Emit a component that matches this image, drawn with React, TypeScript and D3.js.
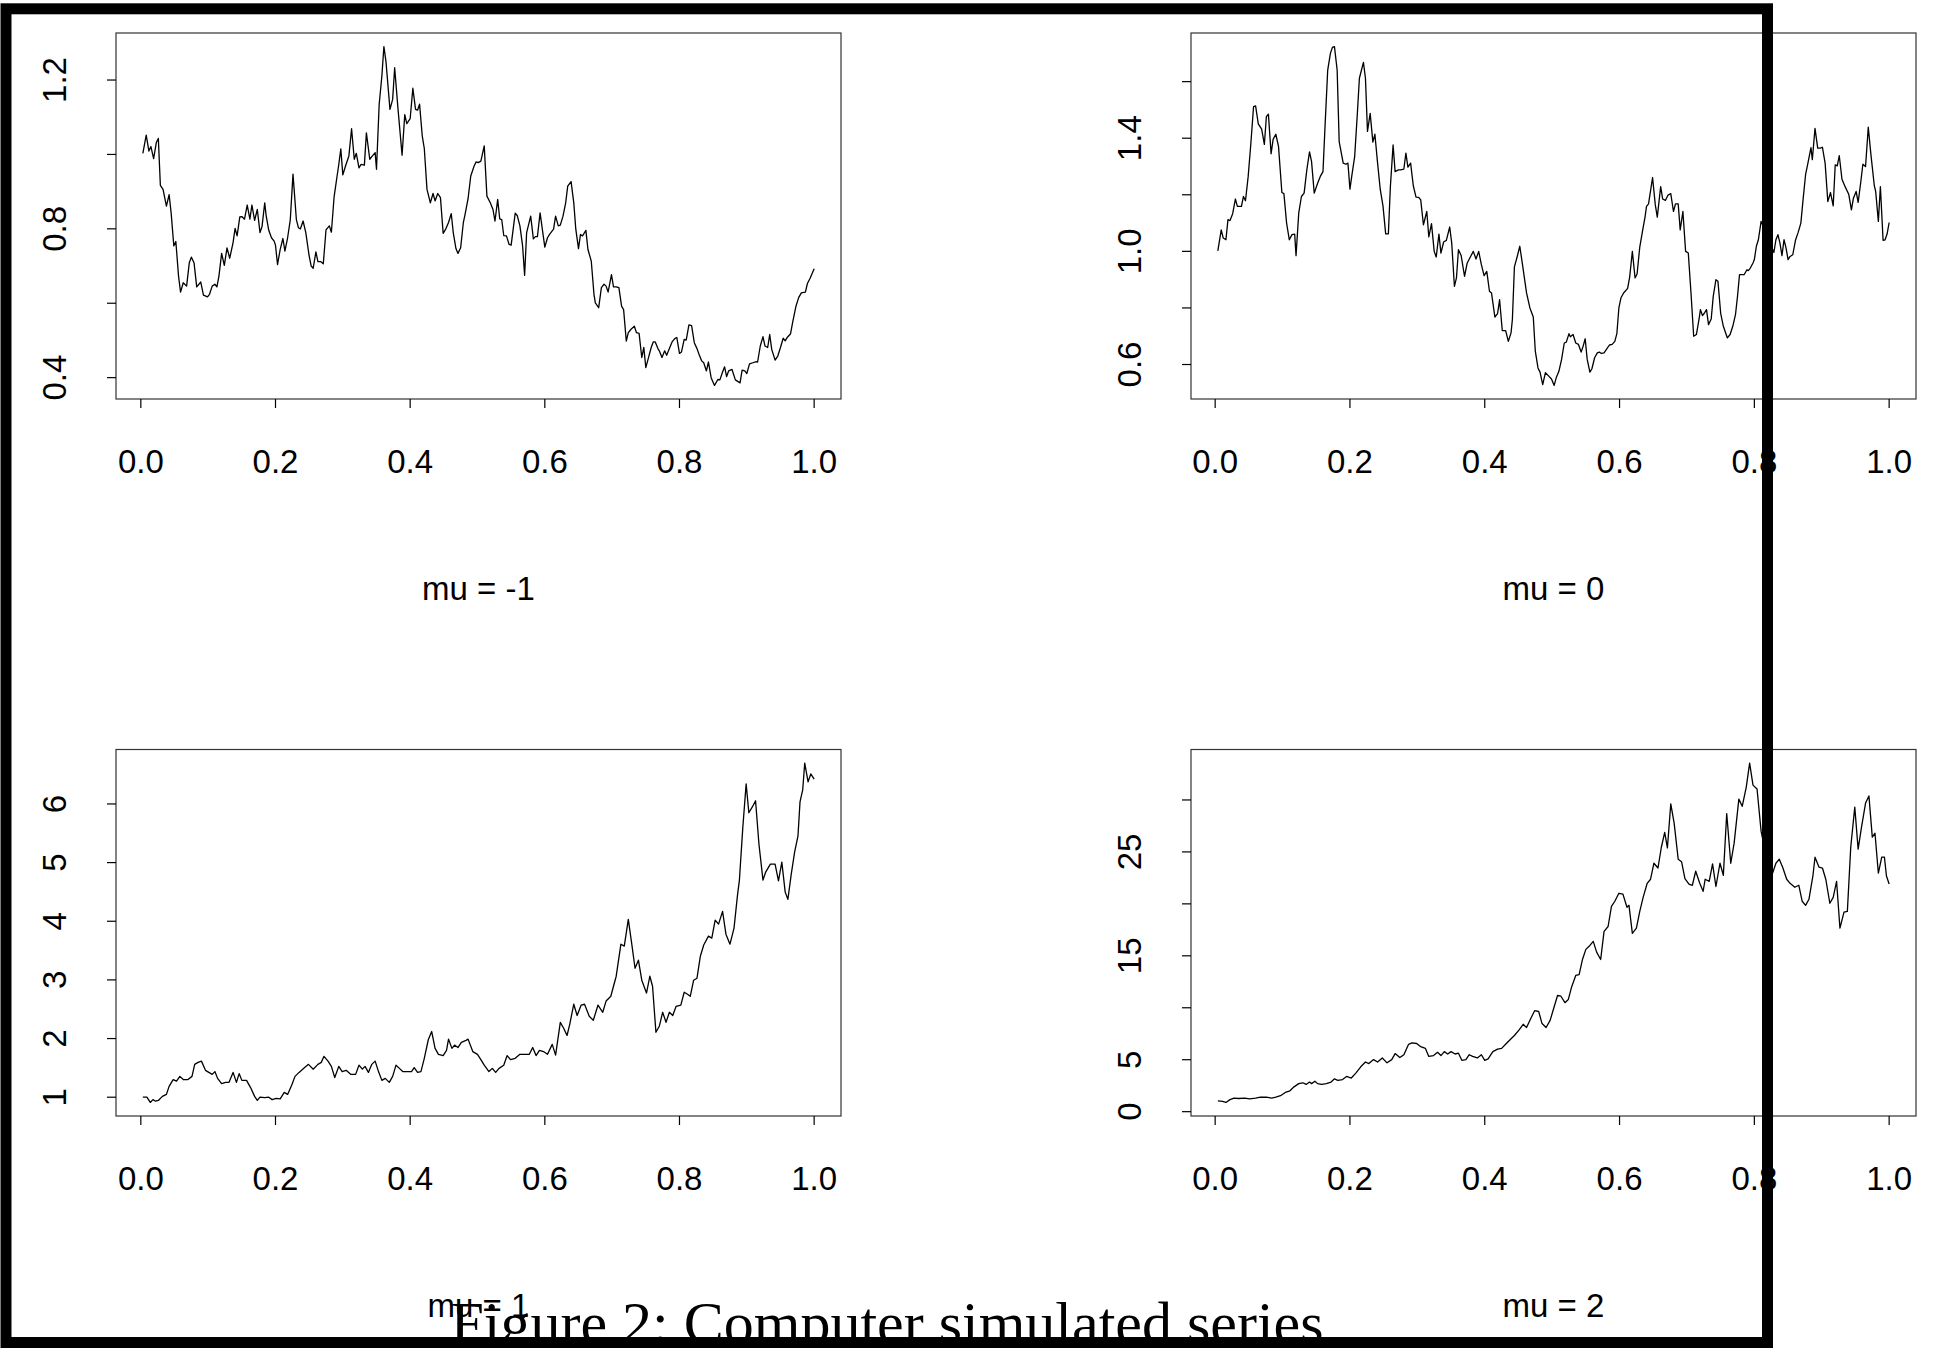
import React from 'react';
import * as d3 from 'd3';

const W = 1936;
const H = 1348;

// simulated series, [t, value]
const seriesMuM1: [number, number][] = [
  [0.003,1.003],[0.008,1.052],[0.012,1.009],[0.015,1.021],[0.019,0.989],[0.023,1.032],[0.026,1.043],[0.029,0.917],[0.033,0.906],[0.038,0.861],
  [0.042,0.892],[0.045,0.843],[0.049,0.754],[0.052,0.766],[0.056,0.673],[0.059,0.630],[0.063,0.655],[0.068,0.646],[0.072,0.709],[0.075,0.724],
  [0.079,0.709],[0.083,0.644],[0.089,0.657],[0.093,0.622],[0.099,0.617],[0.102,0.624],[0.106,0.646],[0.110,0.651],[0.113,0.644],[0.116,0.673],
  [0.120,0.734],[0.124,0.702],[0.128,0.749],[0.132,0.721],[0.137,0.763],[0.140,0.801],[0.143,0.781],[0.147,0.832],[0.150,0.833],[0.154,0.826],
  [0.158,0.864],[0.162,0.826],[0.165,0.864],[0.169,0.823],[0.173,0.852],[0.177,0.790],[0.180,0.806],[0.184,0.870],[0.186,0.837],[0.190,0.796],
  [0.194,0.776],[0.198,0.767],[0.200,0.756],[0.203,0.704],[0.207,0.745],[0.211,0.774],[0.214,0.740],[0.218,0.776],[0.222,0.825],[0.226,0.947],
  [0.231,0.825],[0.234,0.803],[0.237,0.800],[0.241,0.821],[0.245,0.790],[0.250,0.727],[0.253,0.700],[0.256,0.694],[0.260,0.738],[0.263,0.712],
  [0.267,0.712],[0.271,0.706],[0.275,0.797],[0.280,0.808],[0.283,0.791],[0.287,0.885],[0.291,0.936],[0.294,0.973],[0.297,1.015],[0.300,0.945],
  [0.304,0.969],[0.309,0.996],[0.313,1.069],[0.317,0.987],[0.320,1.003],[0.324,0.964],[0.327,0.973],[0.332,0.971],[0.335,1.058],[0.340,0.987],
  [0.343,0.994],[0.348,1.005],[0.350,0.960],[0.354,1.135],[0.358,1.211],[0.361,1.290],[0.364,1.251],[0.370,1.121],[0.374,1.148],[0.377,1.233],
  [0.382,1.121],[0.388,0.998],[0.392,1.107],[0.395,1.083],[0.400,1.096],[0.404,1.178],[0.408,1.121],[0.411,1.119],[0.414,1.135],[0.418,1.049],
  [0.421,1.016],[0.425,0.906],[0.430,0.870],[0.434,0.895],[0.437,0.875],[0.441,0.895],[0.445,0.884],[0.449,0.788],[0.453,0.800],[0.457,0.817],
  [0.461,0.841],[0.464,0.790],[0.468,0.747],[0.471,0.734],[0.475,0.749],[0.479,0.817],[0.482,0.843],[0.486,0.881],[0.490,0.942],[0.495,0.969],
  [0.498,0.980],[0.501,0.978],[0.505,0.982],[0.510,1.023],[0.514,0.888],[0.519,0.870],[0.523,0.852],[0.526,0.821],[0.530,0.879],[0.533,0.827],
  [0.536,0.825],[0.539,0.782],[0.543,0.781],[0.547,0.758],[0.550,0.756],[0.553,0.799],[0.556,0.842],[0.559,0.836],[0.563,0.808],[0.567,0.754],
  [0.570,0.675],[0.573,0.790],[0.576,0.812],[0.579,0.834],[0.583,0.773],[0.586,0.779],[0.589,0.779],[0.593,0.843],[0.597,0.790],[0.600,0.751],
  [0.604,0.776],[0.607,0.785],[0.613,0.799],[0.616,0.834],[0.620,0.808],[0.623,0.810],[0.627,0.834],[0.631,0.870],[0.634,0.915],[0.639,0.927],
  [0.643,0.870],[0.646,0.799],[0.650,0.747],[0.653,0.785],[0.656,0.781],[0.661,0.796],[0.664,0.745],[0.669,0.713],[0.673,0.624],[0.675,0.601],
  [0.680,0.588],[0.684,0.642],[0.688,0.651],[0.691,0.646],[0.694,0.630],[0.699,0.677],[0.702,0.644],[0.706,0.644],[0.710,0.642],[0.714,0.592],
  [0.717,0.583],[0.721,0.498],[0.724,0.521],[0.728,0.530],[0.733,0.538],[0.736,0.521],[0.740,0.519],[0.744,0.454],[0.747,0.481],[0.750,0.427],
  [0.754,0.454],[0.758,0.481],[0.761,0.496],[0.764,0.496],[0.768,0.478],[0.770,0.472],[0.774,0.454],[0.778,0.472],[0.781,0.460],[0.785,0.478],
  [0.789,0.496],[0.793,0.505],[0.796,0.508],[0.800,0.465],[0.803,0.469],[0.807,0.503],[0.810,0.501],[0.814,0.542],[0.818,0.540],[0.822,0.494],
  [0.826,0.478],[0.829,0.463],[0.833,0.445],[0.836,0.440],[0.840,0.418],[0.843,0.442],[0.847,0.400],[0.852,0.379],[0.857,0.395],[0.860,0.394],
  [0.864,0.415],[0.867,0.429],[0.870,0.403],[0.873,0.418],[0.878,0.422],[0.883,0.394],[0.890,0.386],[0.893,0.420],[0.897,0.418],[0.900,0.411],
  [0.904,0.437],[0.909,0.440],[0.914,0.443],[0.916,0.442],[0.920,0.485],[0.924,0.510],[0.927,0.485],[0.931,0.481],[0.934,0.516],[0.937,0.476],
  [0.942,0.447],[0.946,0.458],[0.950,0.481],[0.954,0.506],[0.957,0.499],[0.960,0.508],[0.965,0.518],[0.968,0.548],[0.973,0.592],[0.977,0.615],
  [0.981,0.628],[0.987,0.630],[0.990,0.653],[0.994,0.667],[1.000,0.693],
];

const seriesMu0: [number, number][] = [
  [0.004,1.002],[0.009,1.076],[0.012,1.047],[0.016,1.041],[0.019,1.112],[0.022,1.109],[0.026,1.133],[0.030,1.185],[0.033,1.159],[0.039,1.159],
  [0.042,1.194],[0.045,1.179],[0.049,1.265],[0.053,1.382],[0.057,1.512],[0.060,1.514],[0.064,1.451],[0.069,1.432],[0.073,1.378],[0.076,1.476],
  [0.079,1.485],[0.083,1.345],[0.086,1.396],[0.090,1.414],[0.094,1.371],[0.099,1.208],[0.102,1.204],[0.106,1.100],[0.110,1.041],[0.114,1.059],
  [0.118,1.061],[0.120,0.985],[0.124,1.135],[0.128,1.194],[0.132,1.206],[0.136,1.288],[0.140,1.352],[0.143,1.318],[0.147,1.206],[0.152,1.241],
  [0.156,1.265],[0.160,1.282],[0.163,1.441],[0.167,1.641],[0.171,1.700],[0.174,1.721],[0.177,1.724],[0.181,1.641],[0.184,1.388],[0.190,1.312],
  [0.194,1.308],[0.197,1.312],[0.200,1.220],[0.203,1.271],[0.207,1.335],[0.211,1.488],[0.214,1.612],[0.220,1.668],[0.223,1.612],[0.226,1.424],
  [0.230,1.488],[0.234,1.386],[0.237,1.414],[0.241,1.312],[0.245,1.218],[0.249,1.161],[0.253,1.062],[0.257,1.062],[0.260,1.229],[0.264,1.376],
  [0.267,1.282],[0.272,1.288],[0.275,1.288],[0.280,1.291],[0.283,1.347],[0.286,1.298],[0.290,1.312],[0.294,1.232],[0.298,1.192],[0.302,1.191],
  [0.305,1.182],[0.309,1.094],[0.314,1.141],[0.317,1.051],[0.321,1.098],[0.325,1.000],[0.328,0.980],[0.332,1.061],[0.335,0.994],[0.339,1.033],
  [0.343,1.039],[0.348,1.086],[0.351,1.029],[0.355,0.876],[0.358,0.906],[0.361,1.006],[0.365,0.985],[0.370,0.912],[0.374,0.959],[0.379,0.982],
  [0.383,1.000],[0.387,0.973],[0.391,1.000],[0.395,0.953],[0.399,0.914],[0.403,0.929],[0.407,0.859],[0.410,0.853],[0.415,0.768],[0.419,0.780],
  [0.422,0.829],[0.426,0.720],[0.431,0.720],[0.435,0.682],[0.439,0.712],[0.441,0.759],[0.444,0.945],[0.448,0.980],[0.452,1.018],[0.456,0.953],
  [0.462,0.853],[0.467,0.800],[0.472,0.768],[0.475,0.647],[0.479,0.588],[0.482,0.573],[0.486,0.529],[0.490,0.571],[0.495,0.559],[0.499,0.549],
  [0.503,0.526],[0.506,0.553],[0.510,0.576],[0.514,0.618],[0.518,0.676],[0.521,0.679],[0.525,0.709],[0.527,0.698],[0.531,0.706],[0.535,0.676],
  [0.539,0.671],[0.543,0.644],[0.546,0.665],[0.549,0.691],[0.552,0.618],[0.556,0.573],[0.559,0.585],[0.563,0.624],[0.567,0.641],[0.570,0.644],
  [0.573,0.639],[0.577,0.641],[0.581,0.655],[0.585,0.669],[0.589,0.671],[0.593,0.682],[0.596,0.709],[0.599,0.800],[0.602,0.835],[0.606,0.853],
  [0.612,0.869],[0.615,0.909],[0.619,1.000],[0.623,0.906],[0.626,0.920],[0.630,1.015],[0.634,1.071],[0.638,1.124],[0.640,1.159],[0.643,1.168],
  [0.649,1.261],[0.653,1.165],[0.656,1.121],[0.661,1.229],[0.664,1.185],[0.668,1.180],[0.672,1.199],[0.676,1.204],[0.680,1.141],[0.683,1.168],
  [0.687,1.168],[0.690,1.076],[0.694,1.141],[0.698,1.000],[0.702,0.994],[0.706,0.853],[0.710,0.700],[0.714,0.706],[0.718,0.761],[0.720,0.794],
  [0.723,0.773],[0.726,0.782],[0.729,0.794],[0.732,0.741],[0.736,0.761],[0.739,0.841],[0.743,0.900],[0.746,0.894],[0.750,0.782],[0.754,0.735],
  [0.760,0.694],[0.764,0.706],[0.768,0.735],[0.772,0.776],[0.775,0.841],[0.778,0.918],[0.782,0.918],[0.785,0.918],[0.789,0.935],[0.791,0.932],
  [0.794,0.941],[0.798,0.959],[0.800,0.971],[0.803,1.018],[0.806,1.041],[0.810,1.106],[0.829,0.996],[0.832,1.041],[0.835,1.059],[0.838,1.029],
  [0.841,0.985],[0.844,1.041],[0.847,1.012],[0.850,0.971],[0.853,0.982],[0.857,0.988],[0.861,1.039],[0.865,1.067],[0.869,1.100],[0.872,1.176],
  [0.876,1.271],[0.880,1.318],[0.884,1.367],[0.886,1.324],[0.890,1.435],[0.894,1.365],[0.898,1.365],[0.901,1.368],[0.905,1.312],[0.909,1.176],
  [0.913,1.208],[0.917,1.161],[0.920,1.306],[0.923,1.302],[0.926,1.338],[0.930,1.255],[0.935,1.227],[0.940,1.202],[0.944,1.147],[0.947,1.188],
  [0.951,1.212],[0.954,1.173],[0.958,1.247],[0.961,1.308],[0.965,1.300],[0.969,1.439],[0.973,1.341],[0.978,1.232],[0.980,1.212],[0.984,1.106],
  [0.987,1.229],[0.991,1.039],[0.994,1.041],[0.997,1.062],[1.000,1.102],
];

const seriesMu1: [number, number][] = [
  [0.003,1.000],[0.009,1.000],[0.014,0.911],[0.018,0.959],[0.022,0.932],[0.026,0.945],[0.032,1.014],[0.038,1.048],[0.042,1.184],[0.048,1.301],
  [0.053,1.273],[0.058,1.355],[0.063,1.301],[0.070,1.301],[0.076,1.355],[0.080,1.560],[0.085,1.594],[0.090,1.615],[0.096,1.458],[0.101,1.423],
  [0.106,1.389],[0.110,1.437],[0.114,1.321],[0.120,1.232],[0.126,1.253],[0.131,1.253],[0.137,1.423],[0.142,1.253],[0.146,1.403],[0.150,1.287],
  [0.157,1.287],[0.163,1.164],[0.169,1.014],[0.173,0.945],[0.177,1.000],[0.184,0.993],[0.190,1.000],[0.195,0.959],[0.201,0.980],[0.207,0.973],
  [0.213,1.082],[0.218,1.048],[0.224,1.205],[0.229,1.355],[0.235,1.423],[0.242,1.492],[0.249,1.560],[0.256,1.478],[0.263,1.560],[0.268,1.594],
  [0.272,1.697],[0.278,1.615],[0.283,1.526],[0.288,1.335],[0.294,1.526],[0.299,1.437],[0.305,1.458],[0.312,1.389],[0.319,1.389],[0.324,1.546],
  [0.329,1.478],[0.333,1.526],[0.338,1.423],[0.343,1.560],[0.348,1.615],[0.353,1.437],[0.358,1.287],[0.363,1.321],[0.369,1.253],[0.374,1.355],
  [0.379,1.546],[0.384,1.492],[0.389,1.437],[0.396,1.437],[0.402,1.437],[0.406,1.505],[0.411,1.423],[0.416,1.437],[0.421,1.663],[0.427,1.984],
  [0.432,2.120],[0.437,1.833],[0.442,1.731],[0.449,1.710],[0.454,1.799],[0.457,1.990],[0.462,1.833],[0.466,1.888],[0.471,1.847],[0.476,1.936],
  [0.483,1.970],[0.486,1.990],[0.493,1.778],[0.500,1.731],[0.505,1.642],[0.510,1.546],[0.517,1.437],[0.522,1.492],[0.527,1.423],[0.532,1.492],
  [0.539,1.546],[0.544,1.710],[0.549,1.642],[0.556,1.663],[0.563,1.731],[0.570,1.731],[0.577,1.731],[0.582,1.847],[0.587,1.710],[0.592,1.799],
  [0.598,1.778],[0.604,1.731],[0.611,1.901],[0.616,1.717],[0.623,2.277],[0.628,2.175],[0.633,2.052],[0.637,2.243],[0.643,2.585],[0.648,2.393],
  [0.654,2.571],[0.659,2.585],[0.666,2.380],[0.672,2.311],[0.679,2.571],[0.686,2.448],[0.691,2.639],[0.698,2.721],[0.706,3.063],[0.713,3.609],
  [0.718,3.575],[0.724,4.033],[0.729,3.623],[0.734,3.199],[0.739,3.336],[0.744,2.995],[0.751,2.776],[0.756,3.063],[0.760,2.892],[0.765,2.107],
  [0.770,2.209],[0.775,2.448],[0.780,2.277],[0.785,2.448],[0.790,2.393],[0.795,2.550],[0.802,2.571],[0.807,2.790],[0.812,2.755],[0.816,2.721],
  [0.821,2.995],[0.826,3.029],[0.831,3.404],[0.836,3.596],[0.843,3.746],[0.848,3.712],[0.853,4.019],[0.858,3.951],[0.864,4.169],[0.869,3.780],
  [0.875,3.609],[0.881,3.883],[0.886,4.429],[0.889,4.702],[0.894,5.590],[0.899,6.342],[0.903,5.850],[0.908,5.945],[0.913,6.055],[0.918,5.317],
  [0.924,4.702],[0.928,4.839],[0.935,4.975],[0.942,4.975],[0.947,4.689],[0.952,5.009],[0.957,4.497],[0.961,4.374],[0.966,4.805],[0.971,5.180],
  [0.976,5.454],[0.979,6.035],[0.983,6.239],[0.986,6.697],[0.991,6.376],[0.995,6.512],[1.000,6.423],
];

const seriesMu2: [number, number][] = [
  [0.004,1.04],[0.011,1.00],[0.016,0.89],[0.022,1.16],[0.028,1.31],[0.035,1.27],[0.044,1.31],[0.051,1.23],[0.060,1.31],[0.067,1.39],
  [0.076,1.39],[0.084,1.31],[0.090,1.39],[0.097,1.54],[0.104,1.85],[0.111,2.01],[0.117,2.39],[0.124,2.70],[0.130,2.78],[0.135,2.62],
  [0.140,2.85],[0.143,2.70],[0.148,2.93],[0.152,2.70],[0.158,2.62],[0.165,2.70],[0.172,2.85],[0.177,3.16],[0.182,3.01],[0.189,3.09],
  [0.195,3.39],[0.202,3.24],[0.209,3.74],[0.216,4.32],[0.223,4.78],[0.228,4.63],[0.235,5.01],[0.241,4.78],[0.248,5.17],[0.255,4.70],
  [0.262,5.01],[0.267,5.59],[0.274,5.21],[0.280,5.48],[0.287,6.48],[0.292,6.63],[0.299,6.56],[0.305,6.25],[0.312,6.09],[0.317,5.32],
  [0.324,5.40],[0.330,5.71],[0.335,5.40],[0.340,5.78],[0.345,5.55],[0.350,5.78],[0.356,5.55],[0.361,5.63],[0.366,4.94],[0.372,5.01],
  [0.377,5.48],[0.382,5.32],[0.389,5.17],[0.395,5.48],[0.400,4.94],[0.405,5.09],[0.412,5.78],[0.419,6.02],[0.425,6.09],[0.432,6.56],
  [0.439,7.02],[0.444,7.33],[0.451,7.87],[0.457,8.41],[0.462,8.10],[0.469,9.06],[0.474,9.72],[0.480,9.64],[0.485,8.48],[0.491,8.10],
  [0.497,8.79],[0.503,10.10],[0.508,11.18],[0.513,11.11],[0.519,10.49],[0.524,10.80],[0.529,12.03],[0.535,13.11],[0.540,13.19],[0.545,14.65],
  [0.550,15.62],[0.556,16.00],[0.561,16.39],[0.566,15.35],[0.572,14.65],[0.577,17.35],[0.583,17.82],[0.588,19.75],[0.593,20.25],[0.599,21.02],
  [0.605,20.94],[0.611,19.67],[0.614,19.86],[0.619,17.16],[0.625,17.66],[0.630,19.28],[0.635,20.63],[0.641,21.98],[0.646,22.37],[0.651,23.91],
  [0.657,23.45],[0.662,25.45],[0.667,26.88],[0.671,25.38],[0.676,29.62],[0.681,27.77],[0.687,24.30],[0.692,24.06],[0.697,22.44],[0.703,21.91],
  [0.708,21.79],[0.713,23.14],[0.719,21.98],[0.724,21.21],[0.727,22.37],[0.733,22.17],[0.738,23.84],[0.743,21.67],[0.749,23.91],[0.754,22.75],
  [0.759,28.69],[0.765,23.91],[0.770,25.84],[0.777,30.08],[0.782,29.39],[0.788,31.24],[0.793,33.55],[0.798,31.43],[0.804,31.05],[0.810,27.00],
  [0.816,25.07],[0.827,22.95],[0.832,23.91],[0.837,24.30],[0.842,23.53],[0.848,22.37],[0.853,21.98],[0.860,21.60],[0.866,21.79],[0.871,20.25],
  [0.876,19.86],[0.881,20.44],[0.887,22.75],[0.890,24.49],[0.896,23.53],[0.901,23.45],[0.906,22.37],[0.912,20.06],[0.917,20.63],[0.922,22.17],
  [0.927,17.66],[0.933,19.21],[0.938,19.28],[0.943,25.45],[0.949,29.31],[0.954,25.26],[0.959,27.38],[0.965,29.70],[0.970,30.39],[0.975,26.42],
  [0.979,26.80],[0.984,22.95],[0.989,24.49],[0.993,24.49],[0.996,22.68],[1.000,21.91],
];

const xTicks = [0, 0.2, 0.4, 0.6, 0.8, 1.0];

const ticksMuM1 = [0.4, 0.6, 0.8, 1.0, 1.2];
const labelsMuM1 = ['0.4', '0.8', '1.2'];
const ticksMu0 = [0.6, 0.8, 1.0, 1.2, 1.4, 1.6];
const labelsMu0 = ['0.6', '1.0', '1.4'];
const ticksMu1 = [1, 2, 3, 4, 5, 6];
const labelsMu1 = ['1', '2', '3', '4', '5', '6'];
const ticksMu2 = [0, 5, 10, 15, 20, 25, 30];
const labelsMu2 = ['0', '5', '15', '25'];

const titles = ['mu = -1', 'mu = 0', 'mu = 1', 'mu = 2'];
const caption = 'Figure 2: Computer simulated series';

const SANS = '"Liberation Sans", Arial, Helvetica, sans-serif';

// R style range: data extent padded by 4% each side
function padded(ext: [number, number]): [number, number] {
  const p = (ext[1] - ext[0]) * 0.04;
  return [ext[0] - p, ext[1] + p];
}

type Box = { x0: number; x1: number; y0: number; y1: number };

function Panel(props: { data: [number, number][]; title: string; yTicks: number[]; yLabels: string[]; box: Box }) {
  const { data, title, yTicks, yLabels, box } = props;
  const x = d3.scaleLinear()
    .domain(padded(d3.extent(data, d => d[0]) as [number, number]))
    .range([box.x0, box.x1]);
  const y = d3.scaleLinear()
    .domain(padded(d3.extent(data, d => d[1]) as [number, number]))
    .range([box.y1, box.y0]);
  const line = d3.line<[number, number]>().x(d => x(d[0])).y(d => y(d[1]));
  const fmt = d3.format('.1f');

  return (
    <g>
      <rect x={box.x0} y={box.y0} width={box.x1 - box.x0} height={box.y1 - box.y0}
        fill="none" stroke="#333" strokeWidth={1.2} />
      <path d={line(data) || ''} fill="none" stroke="#000" strokeWidth={1.3} strokeLinejoin="round" />
      {xTicks.map(t => (
        <g key={'x' + t}>
          <line x1={x(t)} x2={x(t)} y1={box.y1} y2={box.y1 + 9} stroke="#000" strokeWidth={1.2} />
          <text x={x(t)} y={box.y1 + 74} textAnchor="middle" fontSize={33} fontFamily={SANS}>{fmt(t)}</text>
        </g>
      ))}
      {yTicks.map(v => (
        <line key={'y' + v} x1={box.x0 - 9} x2={box.x0} y1={y(v)} y2={y(v)} stroke="#000" strokeWidth={1.2} />
      ))}
      {yLabels.map(l => (
        <text key={'l' + l} transform={`translate(${box.x0 - 50},${y(+l)}) rotate(-90)`}
          textAnchor="middle" fontSize={33} fontFamily={SANS}>{l}</text>
      ))}
      <text x={(box.x0 + box.x1) / 2} y={box.y1 + 201} textAnchor="middle" fontSize={33} fontFamily={SANS}>{title}</text>
    </g>
  );
}

export default function App() {
  const left = { x0: 116, x1: 841 };
  const right = { x0: 1191, x1: 1916 };
  const top = { y0: 33, y1: 399 };
  const bottom = { y0: 749.5, y1: 1116 };

  return (
    <div style={{ position: 'absolute', left: 0, top: 0 }}>
      <svg width={W} height={H} style={{ display: 'block', background: '#fff' }}>
        <rect width={W} height={H} fill="#fff" />
        <Panel data={seriesMuM1} title={titles[0]} yTicks={ticksMuM1} yLabels={labelsMuM1} box={{ ...left, ...top }} />
        <Panel data={seriesMu0} title={titles[1]} yTicks={ticksMu0} yLabels={labelsMu0} box={{ ...right, ...top }} />
        <Panel data={seriesMu1} title={titles[2]} yTicks={ticksMu1} yLabels={labelsMu1} box={{ ...left, ...bottom }} />
        <Panel data={seriesMu2} title={titles[3]} yTicks={ticksMu2} yLabels={labelsMu2} box={{ ...right, ...bottom }} />
        <text x={887} y={1343} textAnchor="middle" fontSize={60}
          fontFamily='"Liberation Serif", "Times New Roman", serif'>{caption}</text>
        {/* thick frame drawn over everything, as in the scan */}
        <rect x={6} y={8.8} width={1761.5} height={1333.7} fill="none" stroke="#000" strokeWidth={11} />
      </svg>
    </div>
  );
}
